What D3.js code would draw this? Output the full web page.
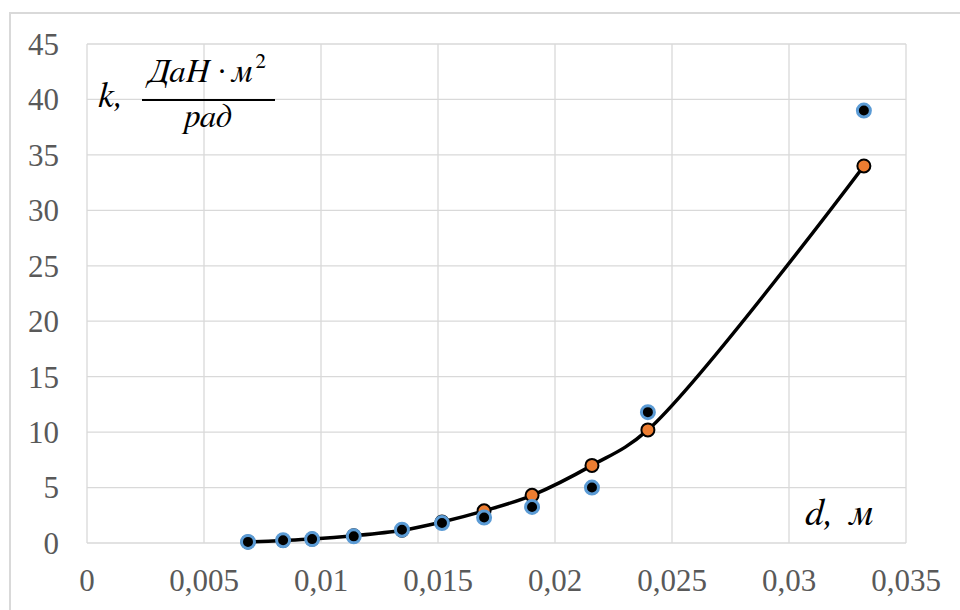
<!DOCTYPE html>
<html>
<head>
<meta charset="utf-8">
<script src="https://cdn.jsdelivr.net/npm/d3@7"></script>
<style>
  body { margin: 0; background: #fff; }
</style>
</head>
<body>
<div id="chart"></div>
<script>
// diameters, m
var dValues = [0.00688, 0.00838, 0.00962, 0.0114, 0.01346, 0.01517, 0.01697, 0.01902, 0.02158, 0.02397, 0.0332];
// calculated stiffness (orange, smooth line)
var kCalc = [0.1, 0.22, 0.35, 0.65, 1.15, 1.9, 2.9, 4.3, 7.0, 10.2, 34.0];
// experimental stiffness (blue)
var kExp = [0.1, 0.25, 0.35, 0.6, 1.2, 1.8, 2.3, 3.25, 5.0, 11.8, 39.0];

var xTicks = [0, 0.005, 0.01, 0.015, 0.02, 0.025, 0.03, 0.035];
var yTicks = [0, 5, 10, 15, 20, 25, 30, 35, 40, 45];

var SERIF = "'Liberation Serif'";
var ITALIC = "'FreeSerif'";

var W = 960, H = 610;
var svg = d3.select("#chart").append("svg")
    .attr("width", W).attr("height", H);

// outer chart frame
svg.append("rect")
    .attr("x", 10).attr("y", 13)
    .attr("width", W).attr("height", H)
    .attr("fill", "#fff")
    .attr("stroke", "#d9d9d9").attr("stroke-width", 2);

var x = d3.scaleLinear().domain([0, 0.035]).range([87, 906]);
var y = d3.scaleLinear().domain([0, 45]).range([543, 44]);

var fmt = function (v) { return String(v).replace(".", ","); };

// grid
svg.append("g").selectAll("line").data(xTicks).join("line")
    .attr("x1", function (d) { return x(d); }).attr("x2", function (d) { return x(d); })
    .attr("y1", y(45)).attr("y2", y(0))
    .attr("stroke", "#d9d9d9").attr("stroke-width", 1.3);

svg.append("g").selectAll("line").data(yTicks).join("line")
    .attr("x1", x(0)).attr("x2", x(0.035))
    .attr("y1", function (d) { return y(d); }).attr("y2", function (d) { return y(d); })
    .attr("stroke", "#d9d9d9").attr("stroke-width", 1.3);

// tick labels
svg.append("g").selectAll("text").data(yTicks).join("text")
    .style("font-family", SERIF)
    .attr("x", 59).attr("y", function (d) { return y(d); })
    .attr("dy", "0.35em")
    .attr("text-anchor", "end")
    .attr("font-size", 31).attr("fill", "#595959")
    .text(fmt);

svg.append("g").selectAll("text").data(xTicks).join("text")
    .style("font-family", SERIF)
    .attr("x", function (d) { return x(d); }).attr("y", 591)
    .attr("text-anchor", "middle")
    .attr("font-size", 31).attr("fill", "#595959")
    .text(fmt);

// calculated curve
var pts = dValues.map(function (d, i) { return [d, kCalc[i]]; });
var line = d3.line()
    .x(function (d) { return x(d[0]); })
    .y(function (d) { return y(d[1]); })
    .curve(d3.curveCatmullRom.alpha(0.5));

svg.append("path")
    .datum(pts)
    .attr("d", line)
    .attr("fill", "none")
    .attr("stroke", "#000").attr("stroke-width", 3.5);

svg.append("g").selectAll("circle").data(pts).join("circle")
    .attr("cx", function (d) { return x(d[0]); })
    .attr("cy", function (d) { return y(d[1]); })
    .attr("r", 6.5)
    .attr("fill", "#ed7d31")
    .attr("stroke", "#000").attr("stroke-width", 2);

// experimental points
var exp = dValues.map(function (d, i) { return [d, kExp[i]]; });
svg.append("g").selectAll("circle").data(exp).join("circle")
    .attr("cx", function (d) { return x(d[0]); })
    .attr("cy", function (d) { return y(d[1]); })
    .attr("r", 6.5)
    .attr("fill", "#000")
    .attr("stroke", "#5b9bd5").attr("stroke-width", 3);

// axis titles
svg.append("text")
    .style("font-family", ITALIC)
    .attr("x", 98).attr("y", 107)
    .attr("font-size", 36).attr("font-style", "italic")
    .text("k,");

var num = svg.append("text")
    .style("font-family", ITALIC)
    .attr("x", 148).attr("y", 82)
    .attr("font-size", 33).attr("font-style", "italic")
    .text("ДаН ·");
num.append("tspan").attr("dx", 6).text("м");
num.append("tspan").attr("dy", -14).attr("dx", 3)
    .attr("font-size", 21).attr("font-style", "normal").text("2");

svg.append("line")
    .attr("x1", 142).attr("x2", 275)
    .attr("y1", 100).attr("y2", 100)
    .attr("stroke", "#000").attr("stroke-width", 2);

svg.append("text")
    .style("font-family", ITALIC)
    .attr("x", 208).attr("y", 127)
    .attr("text-anchor", "middle")
    .attr("font-size", 33).attr("font-style", "italic")
    .text("рад");

svg.append("text")
    .style("font-family", ITALIC)
    .attr("x", 805).attr("y", 525)
    .attr("font-size", 38).attr("font-style", "italic")
    .attr("word-spacing", 6)
    .text("d, м");
</script>
</body>
</html>
